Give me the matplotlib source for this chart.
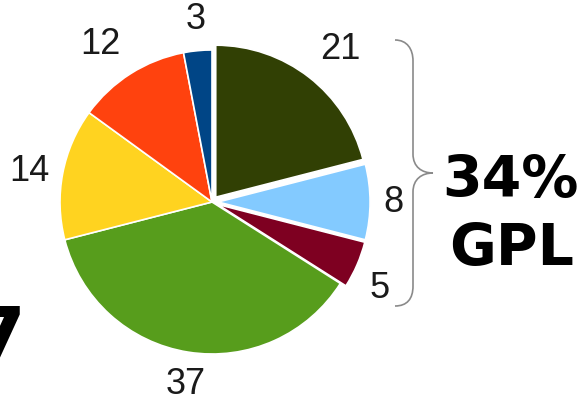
import numpy as np
import matplotlib.pyplot as plt
from matplotlib.path import Path
from matplotlib.patches import PathPatch

# Datos del gráfico (sentido horario desde arriba)
valores = [21, 8, 5, 37, 14, 12, 3]
etiquetas = ['21', '8', '5', '37', '14', '12', '3']
colores = ['#314004', '#83caff', '#7e0021', '#579d1c', '#ffd320', '#ff420e', '#004586']
separacion = [0.04, 0.04, 0.04, 0, 0, 0, 0]
textoPorcentaje = '34%'
textoLicencia = 'GPL'

W, H = 583, 402
fig = plt.figure(figsize=(W / 100, H / 100), dpi=100)
ax = fig.add_axes([0, 0, 1, 1])

cx, cy, r = 212, H - 203, 152
cunas, _ = ax.pie(valores, colors=colores, explode=[e * r for e in separacion],
                  startangle=90, counterclock=False, center=(cx, cy), radius=r,
                  frame=True, wedgeprops=dict(edgecolor='white', linewidth=1.2))
ax.set_xlim(0, W)
ax.set_ylim(0, H)
ax.set_aspect('equal')
ax.axis('off')

# Etiquetas fuera del pastel, alineadas según el ángulo
for cuna, etiqueta in zip(cunas, etiquetas):
    ang = np.deg2rad((cuna.theta1 + cuna.theta2) / 2)
    c, s = np.cos(ang), np.sin(ang)
    x0, y0 = cuna.center
    ha = 'left' if c > 0.3 else ('right' if c < -0.3 else 'center')
    if s > 0.3:
        d = 1.12 * cuna.r
        va = 'baseline'
        extra = 5
    else:
        d = 1.09 * cuna.r
        va = 'top' if s < -0.3 else 'center'
        extra = 0
    ax.text(x0 + d * c, y0 + d * s + extra, etiqueta, ha=ha, va=va, fontsize=26,
            family='Liberation Sans', color='#1a1a1a')

# Llave a la derecha
def yy(v):
    return H - v

verts = [(395, yy(41)), (407, yy(41)), (413, yy(50)), (413, yy(62)),
         (413, yy(155)),
         (413, yy(168)), (422, yy(174)), (433, yy(174)),
         (422, yy(174)), (413, yy(180)), (413, yy(193)),
         (413, yy(287)),
         (413, yy(300)), (407, yy(307)), (395, yy(307))]
codes = [Path.MOVETO, Path.CURVE4, Path.CURVE4, Path.CURVE4,
         Path.LINETO,
         Path.CURVE4, Path.CURVE4, Path.CURVE4,
         Path.CURVE4, Path.CURVE4, Path.CURVE4,
         Path.LINETO,
         Path.CURVE4, Path.CURVE4, Path.CURVE4]
ax.add_patch(PathPatch(Path(verts, codes), facecolor='none', edgecolor='#8a8a8a', linewidth=1.2))

ax.text(510, yy(197), textoPorcentaje, ha='center', va='baseline', fontsize=41,
        fontweight='bold', family='DejaVu Sans', color='black')
ax.text(512, yy(265), textoLicencia, ha='center', va='baseline', fontsize=41,
        fontweight='bold', family='DejaVu Sans', color='black')

# Texto cortado a la izquierda
ax.text(26, yy(363), '7', ha='right', va='baseline', fontsize=57,
        fontweight='bold', family='DejaVu Sans', color='black')

fig.savefig('out.png', dpi=100)
